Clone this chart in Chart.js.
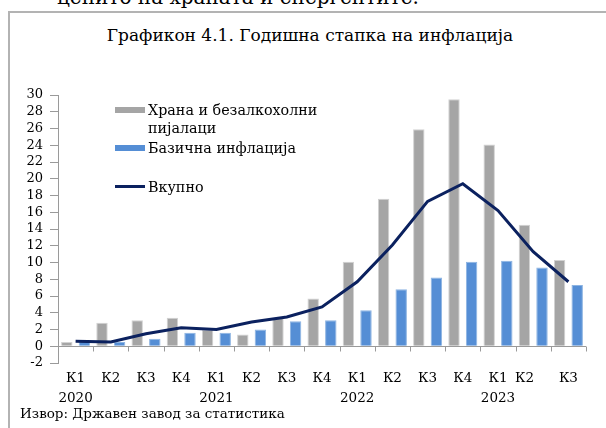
<!DOCTYPE html>
<html>
<head>
<meta charset="utf-8">
<script src="https://cdn.jsdelivr.net/npm/chart.js@4.4.1/dist/chart.umd.min.js"></script>
<style>
  body { margin: 0; width: 606px; height: 428px; overflow: hidden; background: #fff; position: relative; font-family: "DejaVu Serif", serif; color: #000; }
  #lead { position: absolute; left: 57px; top: -13px; font-size: 20px; line-height: 20px; white-space: nowrap; }
  #ramka { position: absolute; left: 8px; top: 11px; width: 700px; height: 500px; border: 2px solid #b3b3b3; }
  #naslov { position: absolute; left: 0; top: 25px; width: 620px; text-align: center; font-size: 17px; line-height: 20px; white-space: nowrap; }
  #grafik { position: absolute; left: 0; top: 0; }
  #legenda { position: absolute; left: 0; top: 0; font-size: 14.3px; line-height: 18px; }
  .stavka { position: absolute; left: 115px; }
  .znak { position: absolute; left: 0; width: 30px; }
  .tekst { position: absolute; left: 33px; top: 0; width: 178px; }
  #izvor { position: absolute; left: 20px; top: 404px; font-size: 13.5px; line-height: 18px; white-space: nowrap; }
</style>
</head>
<body>
<div id="lead">ценито на храната и енергентите.</div>
<div id="ramka"></div>
<div id="naslov">Графикон 4.1. Годишна стапка на инфлација</div>
<canvas id="grafik" width="606" height="428"></canvas>
<div id="legenda"></div>
<div id="izvor">Извор: Државен завод за статистика</div>
<script>
// податоци
const kvartali = ['К1', 'К2', 'К3', 'К4', 'К1', 'К2', 'К3', 'К4', 'К1', 'К2', 'К3', 'К4', 'К1', 'К2\u00a0\u00a0\u00a0\u00a0', 'К3'];
const godini = ['2020', '', '', '', '2021', '', '', '', '2022', '', '', '', '2023', '', ''];
const hrana = [0.5, 2.8, 3.1, 3.4, 2.0, 1.4, 3.4, 5.7, 10.1, 17.6, 25.9, 29.5, 24.1, 14.5, 10.3];
const bazicna = [0.6, 0.5, 0.9, 1.6, 1.6, 2.0, 3.0, 3.1, 4.3, 6.8, 8.2, 10.1, 10.2, 9.4, 7.3];
const vkupno = [0.6, 0.5, 1.5, 2.2, 2.0, 2.9, 3.5, 4.7, 7.7, 12.1, 17.3, 19.4, 16.2, 11.3, 7.7];
const imenaSerii = ['Храна и безалкохолни пијалаци', 'Базична инфлација', 'Вкупно'];

const etiketi = kvartali.map((k, i) => [k, godini[i]]);

// нулта линија и цртички на x-оската
const oskaX = {
    id: 'oskaX',
    beforeDatasetsDraw(chart) {
        const x = chart.scales.x;
        const y0 = Math.round(chart.scales.y.getPixelForValue(0)) + 0.5;
        const ctx = chart.ctx;
        ctx.save();
        ctx.strokeStyle = '#9a9a9a';
        ctx.lineWidth = 1;
        ctx.beginPath();
        ctx.moveTo(x.left, y0);
        ctx.lineTo(x.right, y0);
        const cekor = (x.right - x.left) / x.ticks.length;
        for (let i = 0; i < x.ticks.length; i++) {
            const px = Math.round(x.getPixelForValue(i) + cekor / 2) + 0.5;
            ctx.moveTo(px, y0);
            ctx.lineTo(px, y0 + 5);
        }
        ctx.stroke();
        ctx.restore();
    }
};

const grafik = new Chart(document.getElementById('grafik'), {
    type: 'bar',
    data: {
        labels: etiketi,
        datasets: [
            {
                label: imenaSerii[0],
                data: hrana,
                backgroundColor: '#a5a5a5',
                borderColor: '#d2d2d2',
                borderWidth: 1,
                order: 1
            },
            {
                label: imenaSerii[1],
                data: bazicna,
                backgroundColor: '#558ed5',
                borderColor: '#8db4e2',
                borderWidth: 1,
                order: 1
            },
            {
                type: 'line',
                label: imenaSerii[2],
                data: vkupno,
                borderColor: '#0b215f',
                borderWidth: 3,
                pointRadius: 0,
                tension: 0,
                fill: false,
                order: 0
            }
        ]
    },
    options: {
        responsive: false,
        animation: false,
        devicePixelRatio: 1,
        categoryPercentage: 1,
        barPercentage: 0.65,
        layout: { padding: { top: 95, right: 20, left: 0, bottom: 0 } },
        plugins: {
            legend: { display: false },
            tooltip: { enabled: false }
        },
        scales: {
            x: {
                grid: { display: false, drawTicks: false },
                border: { display: false },
                ticks: {
                    color: '#000',
                    maxRotation: 0,
                    autoSkip: false,
                    padding: 6,
                    font: { family: 'DejaVu Serif', size: 13.5, lineHeight: 1.48 }
                },
                afterFit: s => { s.height = 65; }
            },
            y: {
                min: -2,
                max: 30,
                ticks: {
                    stepSize: 2,
                    autoSkip: false,
                    color: '#000',
                    padding: 7,
                    font: { family: 'DejaVu Serif', size: 13 }
                },
                grid: {
                    color: c => 'transparent',
                    tickColor: '#9a9a9a',
                    tickLength: 8
                },
                border: { color: '#9a9a9a', width: 1 },
                afterFit: s => { s.width = 58; }
            }
        }
    },
    plugins: [oskaX]
});

// легенда
const legendaTop = [101, 139, 178];
const legenda = document.getElementById('legenda');
grafik.data.datasets.forEach((ds, i) => {
    const stavka = document.createElement('div');
    stavka.className = 'stavka';
    stavka.style.top = legendaTop[i] + 'px';
    const znak = document.createElement('span');
    znak.className = 'znak';
    if (ds.type === 'line') {
        znak.style.top = '7px';
        znak.style.height = '3px';
        znak.style.background = ds.borderColor;
    } else {
        znak.style.top = '6px';
        znak.style.height = '6px';
        znak.style.background = ds.backgroundColor;
    }
    const tekst = document.createElement('span');
    tekst.className = 'tekst';
    tekst.textContent = ds.label;
    stavka.appendChild(znak);
    stavka.appendChild(tekst);
    legenda.appendChild(stavka);
});
</script>
</body>
</html>
